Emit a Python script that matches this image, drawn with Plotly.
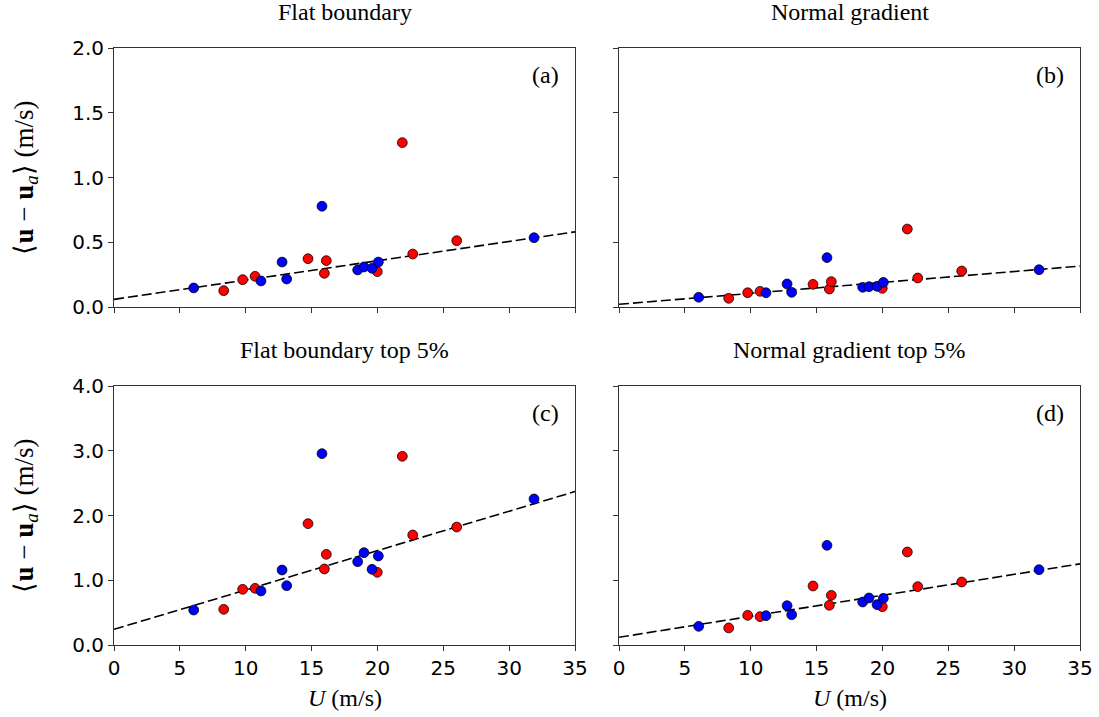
import numpy as np
import plotly.graph_objects as go

# ---------------- data ----------------
blue_U = [6.05, 11.16, 12.76, 13.11, 15.79, 18.50, 18.98, 19.59, 20.07, 31.89]
red_U = [8.33, 9.77, 10.71, 14.73, 15.97, 16.12, 19.99, 21.89, 22.68, 26.02]

a_blue = [0.147, 0.201, 0.347, 0.216, 0.778, 0.286, 0.309, 0.299, 0.347, 0.535]
a_red = [0.126, 0.211, 0.237, 0.373, 0.260, 0.358, 0.273, 1.269, 0.409, 0.512]
b_blue = [0.075, 0.110, 0.178, 0.113, 0.381, 0.152, 0.157, 0.160, 0.190, 0.288]
b_red = [0.067, 0.110, 0.121, 0.175, 0.139, 0.196, 0.144, 0.602, 0.224, 0.278]
c_blue = [0.540, 0.834, 1.158, 0.916, 2.955, 1.287, 1.426, 1.169, 1.374, 2.255]
c_red = [0.551, 0.860, 0.875, 1.874, 1.174, 1.400, 1.122, 2.914, 1.699, 1.822]
d_blue = [0.288, 0.453, 0.607, 0.468, 1.539, 0.664, 0.726, 0.623, 0.721, 1.163]
d_red = [0.263, 0.458, 0.438, 0.911, 0.613, 0.767, 0.592, 1.436, 0.901, 0.973]

fit_intercept = [0.059, 0.021, 0.242, 0.119]
fit_slope = [0.0149, 0.00843, 0.0608, 0.0324]

titles = ["Flat boundary", "Normal gradient", "Flat boundary top 5%", "Normal gradient top 5%"]
panel_labels = ["(a)", "(b)", "(c)", "(d)"]
x_ticks = [0, 5, 10, 15, 20, 25, 30, 35]
y_ticks_top = [0.0, 0.5, 1.0, 1.5, 2.0]
y_ticks_bottom = [0.0, 1.0, 2.0, 3.0, 4.0]

# ---------------- layout geometry ----------------
W, H = 1099, 717
ML, MR, MT, MB = 114, 19, 48, 72
pw, ph = W - ML - MR, H - MT - MB
xdom_left = [0, (575 - ML) / pw]
xdom_right = [(619 - ML) / pw, 1]
ydom_top = [(645 - 307) / ph, 1]
ydom_bot = [0, (645 - 386) / ph]

SERIF = "Liberation Serif, Times New Roman, serif"
SANS = "DejaVu Sans, sans-serif"

fig = go.Figure()

panels = [
    ("x", "y", a_blue, a_red),
    ("x2", "y2", b_blue, b_red),
    ("x3", "y3", c_blue, c_red),
    ("x4", "y4", d_blue, d_red),
]

xfit = np.array([0.0, 35.0])
for i, (xa, ya, yb, yr) in enumerate(panels):
    fig.add_trace(go.Scatter(
        x=xfit, y=fit_intercept[i] + fit_slope[i] * xfit, mode="lines",
        line=dict(color="black", width=1.6, dash="10px,4px"),
        xaxis=xa, yaxis=ya, showlegend=False, hoverinfo="skip"))
    fig.add_trace(go.Scatter(
        x=red_U, y=yr, mode="markers",
        marker=dict(color="#ff0000", size=9.8, line=dict(color="black", width=0.8)),
        xaxis=xa, yaxis=ya, showlegend=False))
    fig.add_trace(go.Scatter(
        x=blue_U, y=yb, mode="markers",
        marker=dict(color="#0000ff", size=9.8, line=dict(color="black", width=0.8)),
        xaxis=xa, yaxis=ya, showlegend=False))

axis_common = dict(
    showgrid=False, zeroline=False, showline=True, linecolor="#333333", linewidth=1,
    mirror=True, ticks="outside", ticklen=5, tickwidth=1, tickcolor="#333333",
    tickfont=dict(family=SANS, size=20, color="black"), automargin=False,
)

fig.update_layout(
    width=W, height=H,
    margin=dict(l=ML, r=MR, t=MT, b=MB),
    paper_bgcolor="white", plot_bgcolor="white",
    showlegend=False,
    xaxis=dict(domain=xdom_left, anchor="y", range=[0, 35], tickvals=x_ticks, showticklabels=False, **axis_common),
    yaxis=dict(domain=ydom_top, anchor="x", range=[0, 2], tickvals=y_ticks_top,
               ticktext=[f"{v:.1f}" for v in y_ticks_top], **axis_common),
    xaxis2=dict(domain=xdom_right, anchor="y2", range=[0, 35], tickvals=x_ticks, showticklabels=False, **axis_common),
    yaxis2=dict(domain=ydom_top, anchor="x2", range=[0, 2], tickvals=y_ticks_top, showticklabels=False, **axis_common),
    xaxis3=dict(domain=xdom_left, anchor="y3", range=[0, 35], tickvals=x_ticks, **axis_common),
    yaxis3=dict(domain=ydom_bot, anchor="x3", range=[0, 4], tickvals=y_ticks_bottom,
                ticktext=[f"{v:.1f}" for v in y_ticks_bottom], **axis_common),
    xaxis4=dict(domain=xdom_right, anchor="y4", range=[0, 35], tickvals=x_ticks, **axis_common),
    yaxis4=dict(domain=ydom_bot, anchor="x4", range=[0, 4], tickvals=y_ticks_bottom, showticklabels=False, **axis_common),
)

ytitle = "⟨<b>u</b> − <b>u</b><sub><i>a</i></sub>⟩ (m/s)"
xtitle = "<i>U</i> (m/s)"

# titles and panel labels
doms = [(xdom_left, ydom_top), (xdom_right, ydom_top), (xdom_left, ydom_bot), (xdom_right, ydom_bot)]
for (xd, yd), t, lab in zip(doms, titles, panel_labels):
    fig.add_annotation(text=t, xref="paper", yref="paper", x=(xd[0] + xd[1]) / 2, y=yd[1],
                       yshift=36, xanchor="center", yanchor="middle", showarrow=False,
                       font=dict(family=SERIF, size=24, color="black"))
    fig.add_annotation(text=lab, xref="paper", yref="paper", x=xd[1], y=yd[1],
                       xshift=-14, yshift=-27, xanchor="right", yanchor="middle", showarrow=False,
                       font=dict(family=SERIF, size=24, color="black"))

# y-axis titles (left column)
for yd in (ydom_top, ydom_bot):
    fig.add_annotation(text=ytitle, xref="paper", yref="paper", x=0, y=(yd[0] + yd[1]) / 2,
                       xshift=-(ML - 25), xanchor="center", yanchor="middle", textangle=-90,
                       showarrow=False, font=dict(family=SERIF, size=27, color="black"))
# x-axis titles (bottom row)
for xd in (xdom_left, xdom_right):
    fig.add_annotation(text=xtitle, xref="paper", yref="paper", x=(xd[0] + xd[1]) / 2, y=0,
                       yshift=-53, xanchor="center", yanchor="middle",
                       showarrow=False, font=dict(family=SERIF, size=24, color="black"))

fig.write_html("out.html", config={"displayModeBar": False},
               post_script="document.body.style.margin='0';")
